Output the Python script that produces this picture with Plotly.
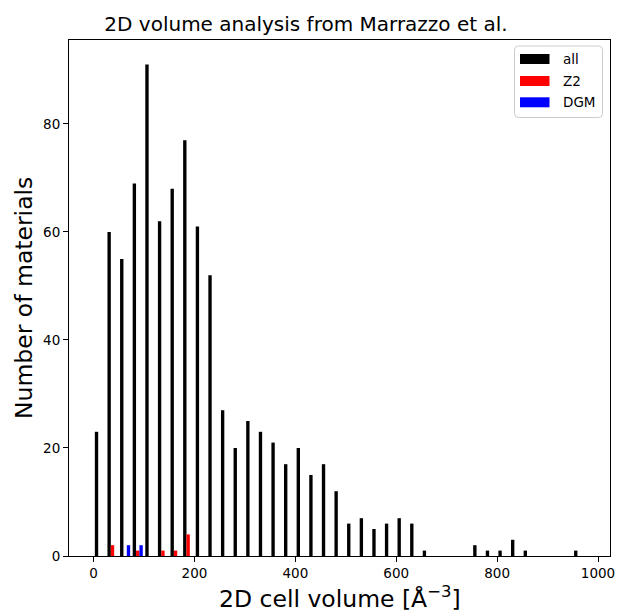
import plotly.graph_objects as go

# ---------------- data ----------------
BIN_START = 0
BIN_WIDTH = 25
all_counts = [23, 60, 55, 69, 91, 62, 68, 77, 61, 52,
              27, 20, 25, 23, 21, 17, 20, 15, 17, 12,
              6, 7, 5, 6, 7, 6, 1, 0, 0, 0,
              2, 1, 1, 3, 1, 0, 0, 0, 1]
z2_counts = [0, 2, 0, 1, 0, 1, 1, 4, 0, 0,
             0, 0, 0, 0, 0, 0, 0, 0, 0, 0,
             0, 0, 0, 0, 0, 0, 0, 0, 0, 0,
             0, 0, 0, 0, 0, 0, 0, 0, 0]
dgm_counts = [0, 0, 2, 2, 0, 0, 0, 0, 0, 0,
              0, 0, 0, 0, 0, 0, 0, 0, 0, 0,
              0, 0, 0, 0, 0, 0, 0, 0, 0, 0,
              0, 0, 0, 0, 0, 0, 0, 0, 0]
series_names = ["all", "Z2", "DGM"]
series_colors = ["#000000", "#ff0000", "#0000ff"]
x_ticks = [0, 200, 400, 600, 800, 1000]
y_ticks = [0, 20, 40, 60, 80]

n_bins = len(all_counts)
bin_centers = [BIN_START + BIN_WIDTH * (i + 0.5) for i in range(n_bins)]
data_lo = BIN_START
data_hi = BIN_START + BIN_WIDTH * n_bins
span = data_hi - data_lo
x_range = [data_lo - 0.05 * span, data_hi + 0.05 * span]
y_range = [0, 1.05 * max(all_counts)]

FONT = "DejaVu Sans"

# plot-area geometry (pixels)
W, H = 620, 613
L, R, T, B = 69, 10, 40, 57
PW = W - L - R
PH = H - T - B

fig = go.Figure()
for name, color, counts in zip(series_names, series_colors,
                               [all_counts, z2_counts, dgm_counts]):
    fig.add_trace(go.Bar(x=bin_centers, y=counts, name=name,
                         marker=dict(color=color, line=dict(width=0)),
                         showlegend=False))

axis_common = dict(showline=True, linecolor="black", linewidth=1, mirror=True,
                   ticks="outside", ticklen=5, tickwidth=1, tickcolor="black",
                   showgrid=False, zeroline=False,
                   tickfont=dict(family=FONT, size=13.5, color="black"))

fig.update_layout(
    width=W, height=H,
    margin=dict(l=L, r=R, t=T, b=B, autoexpand=False),
    paper_bgcolor="white", plot_bgcolor="white",
    barmode="group", bargap=0.2, bargroupgap=0,
    font=dict(family=FONT, color="black"),
    title=dict(text="2D volume analysis from Marrazzo et al.",
               x=306 / W, xref="container", xanchor="center",
               y=1 - 24 / H, yref="container", yanchor="middle",
               font=dict(family=FONT, size=20, color="black")),
    xaxis=dict(range=x_range, tickvals=x_ticks, **axis_common),
    yaxis=dict(range=y_range, tickvals=y_ticks, **axis_common),
)

def px_x(px):
    return (px - L) / PW

def px_y(py):
    return (H - B - py) / PH

# axis titles
fig.add_annotation(text="2D cell volume [Å<sup>−3</sup>]", xref="paper", yref="paper",
                   x=0.5, y=px_y(597), xanchor="center", yanchor="middle",
                   showarrow=False, font=dict(family=FONT, size=23.5, color="black"))
fig.add_annotation(text="Number of materials", xref="paper", yref="paper",
                   x=px_x(24), y=0.5, xanchor="center", yanchor="middle", textangle=-90,
                   showarrow=False, font=dict(family=FONT, size=23.5, color="black"))

# legend (matplotlib-style, drawn manually)
bx0, bx1, by0, by1 = px_x(514.5), px_x(602.5), px_y(46), px_y(117.5)
rx, ry = 4 / PW, 4 / PH
path = (f"M {bx0+rx},{by0} L {bx1-rx},{by0} Q {bx1},{by0} {bx1},{by0-ry} "
        f"L {bx1},{by1+ry} Q {bx1},{by1} {bx1-rx},{by1} "
        f"L {bx0+rx},{by1} Q {bx0},{by1} {bx0},{by1+ry} "
        f"L {bx0},{by0-ry} Q {bx0},{by0} {bx0+rx},{by0} Z")
fig.add_shape(type="path", path=path, xref="paper", yref="paper",
              line=dict(color="#cccccc", width=1), fillcolor="rgba(255,255,255,0.8)")
row_centers = [59, 81, 102.3]
for name, color, cy in zip(series_names, series_colors, row_centers):
    fig.add_shape(type="rect", xref="paper", yref="paper",
                  x0=px_x(520), x1=px_x(549.5), y0=px_y(cy - 5), y1=px_y(cy + 5),
                  line=dict(width=0), fillcolor=color)
    fig.add_annotation(text=name, xref="paper", yref="paper",
                       x=px_x(561), y=px_y(cy), xanchor="left", yanchor="middle",
                       showarrow=False, font=dict(family=FONT, size=13.5, color="black"))

fig.write_html("out.html")
